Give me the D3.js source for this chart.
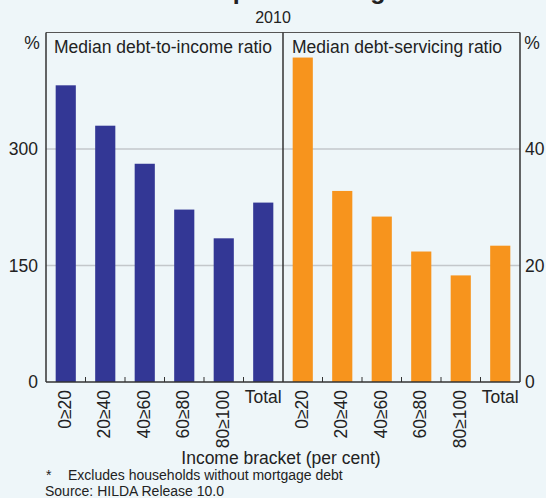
<!DOCTYPE html>
<html>
<head>
<meta charset="utf-8">
<script src="https://cdn.jsdelivr.net/npm/d3@7"></script>
<style>
  html, body { margin: 0; padding: 0; background: #eef6f9; }
  svg { display: block; }
  text { font-family: "Liberation Sans", Arial, sans-serif; fill: #222; }
</style>
</head>
<body>
<svg id="chart" width="546" height="498"></svg>
<script>
const categories = ["0≥20", "20≥40", "40≥60", "60≥80", "80≥100", "Total"];
const debtToIncome = [382, 330, 281, 222, 185, 231];
const debtServicing = [55.7, 32.8, 28.4, 22.4, 18.3, 23.4];
const leftTicks = [0, 150, 300, 450];
const rightTicks = [0, 20, 40, 60];

(function () {
const svg = d3.select("#chart");
const W = 546, H = 498;
svg.append("rect").attr("width", W).attr("height", H).attr("fill", "#eef6f9");

const pTop = 32.5, pBottom = 382, pLeft = 46, pMid = 283, pRight = 520;
const FS = "17.5px";

const yL = d3.scaleLinear().domain([0, 450]).range([pBottom, pTop]);
const yR = d3.scaleLinear().domain([0, 60]).range([pBottom, pTop]);
const xL = d3.scaleBand().domain(categories).range([pLeft, pMid]).paddingInner(0.49).paddingOuter(0.245);
const xR = d3.scaleBand().domain(categories).range([pMid, pRight]).paddingInner(0.49).paddingOuter(0.245);

// Title (cut off at top in the reference)
svg.append("text").attr("x", 273).attr("y", -1).attr("text-anchor", "middle")
  .style("font-size", "25px").style("font-weight", "bold").text("Owner-occupier Housing Debt*");
svg.append("text").attr("x", 273).attr("y", 23).attr("text-anchor", "middle")
  .style("font-size", "16px").text("2010");

// gridlines
const grid = svg.append("g");
leftTicks.filter(d => d > 0 && d < 450).forEach(d => {
  grid.append("line").attr("x1", pLeft).attr("x2", pRight).attr("y1", yL(d)).attr("y2", yL(d))
    .attr("stroke", "#c3c7cb").attr("stroke-width", 1.3);
});

// bars
svg.append("g").selectAll("rect").data(categories).join("rect")
  .attr("x", d => xL(d)).attr("width", xL.bandwidth())
  .attr("y", (d, i) => yL(debtToIncome[i])).attr("height", (d, i) => pBottom - yL(debtToIncome[i]))
  .attr("fill", "#333795");
svg.append("g").selectAll("rect").data(categories).join("rect")
  .attr("x", d => xR(d)).attr("width", xR.bandwidth())
  .attr("y", (d, i) => yR(debtServicing[i])).attr("height", (d, i) => pBottom - yR(debtServicing[i]))
  .attr("fill", "#f7941d");

// frame
svg.append("line").attr("x1", pLeft).attr("x2", pRight).attr("y1", pTop).attr("y2", pTop).attr("stroke", "#555").attr("stroke-width", 1);
svg.append("line").attr("x1", pLeft).attr("x2", pLeft).attr("y1", pTop).attr("y2", pBottom).attr("stroke", "#333").attr("stroke-width", 1.5);
svg.append("line").attr("x1", pRight).attr("x2", pRight).attr("y1", pTop).attr("y2", pBottom).attr("stroke", "#333").attr("stroke-width", 1.5);
svg.append("line").attr("x1", pMid).attr("x2", pMid).attr("y1", pTop).attr("y2", pBottom).attr("stroke", "#333").attr("stroke-width", 1.5);
svg.append("line").attr("x1", pLeft).attr("x2", pRight).attr("y1", pBottom).attr("y2", pBottom).attr("stroke", "#333").attr("stroke-width", 1.5);

// small x ticks at band boundaries
function bandTicks(x) {
  categories.slice(1).forEach(c => {
    const xx = x(c) - x.step() * x.paddingInner() / 2;
    svg.append("line").attr("x1", xx).attr("x2", xx).attr("y1", pBottom).attr("y2", pBottom - 5)
      .attr("stroke", "#333").attr("stroke-width", 1);
  });
}
bandTicks(xL); bandTicks(xR);

// y axes
const axL = svg.append("g").attr("transform", `translate(${pLeft},0)`)
  .call(d3.axisLeft(yL).tickValues(leftTicks.filter(d => d < 450)).tickSize(0).tickPadding(8));
axL.select(".domain").remove();
axL.selectAll("text").style("font-size", FS).style("font-family", "Liberation Sans, Arial, sans-serif").attr("fill", "#222");
const axR = svg.append("g").attr("transform", `translate(${pRight},0)`)
  .call(d3.axisRight(yR).tickValues(rightTicks.filter(d => d < 60)).tickSize(0).tickPadding(5));
axR.select(".domain").remove();
axR.selectAll("text").style("font-size", FS).style("font-family", "Liberation Sans, Arial, sans-serif").attr("fill", "#222");

svg.append("text").attr("x", 32).attr("y", 49).attr("text-anchor", "middle").style("font-size", FS).text("%");
svg.append("text").attr("x", 532).attr("y", 49).attr("text-anchor", "middle").style("font-size", FS).text("%");

// panel titles
svg.append("text").attr("x", 54).attr("y", 53).style("font-size", FS).text("Median debt-to-income ratio");
svg.append("text").attr("x", 292).attr("y", 53).style("font-size", FS).text("Median debt-servicing ratio");

// category labels
function catLabels(x) {
  categories.forEach(c => {
    const cx = x(c) + x.bandwidth() / 2;
    if (c === "Total") {
      svg.append("text").attr("x", cx).attr("y", 403).attr("text-anchor", "middle").style("font-size", FS).text(c);
    } else {
      svg.append("text").attr("transform", `translate(${cx + 5},390) rotate(-90)`)
        .attr("text-anchor", "end").style("font-size", FS).text(c);
    }
  });
}
catLabels(xL); catLabels(xR);

svg.append("text").attr("x", 281).attr("y", 464).attr("text-anchor", "middle").style("font-size", FS).text("Income bracket (per cent)");
svg.append("text").attr("x", 46).attr("y", 480).style("font-size", "14px").text("*");
svg.append("text").attr("x", 68).attr("y", 480).style("font-size", "14px").text("Excludes households without mortgage debt");
svg.append("text").attr("x", 45).attr("y", 496).style("font-size", "14px").text("Source: HILDA Release 10.0");
})();
</script>
</body>
</html>
